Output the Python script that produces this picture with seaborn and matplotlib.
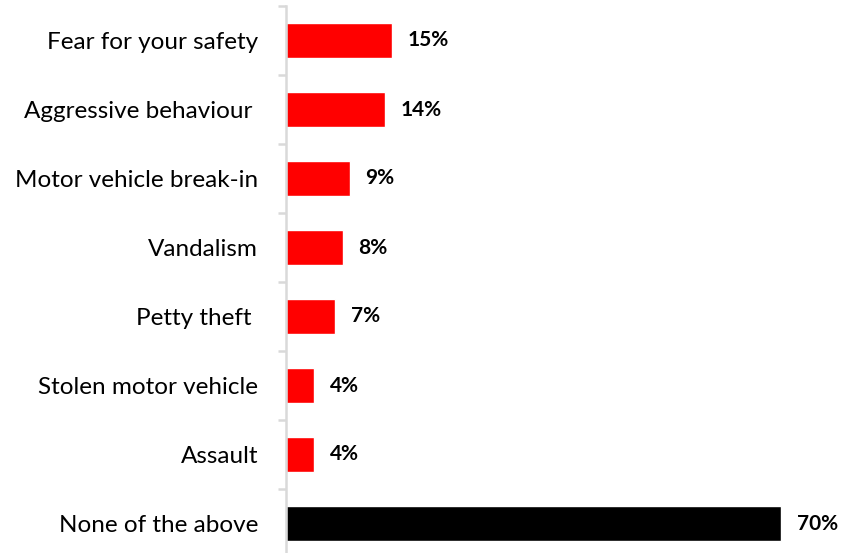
import matplotlib
matplotlib.use("Agg")
import matplotlib.pyplot as plt
import seaborn as sns
import pandas as pd
import numpy as np

categories = [
    "Fear for your safety",
    "Aggressive behaviour ",
    "Motor vehicle break-in",
    "Vandalism",
    "Petty theft ",
    "Stolen motor vehicle",
    "Assault",
    "None of the above",
]
values = [15, 14, 9, 8, 7, 4, 4, 70]
bar_colors = ["#FF0000"] * 7 + ["#000000"]

sns.set_theme(style="white")
plt.rcParams["font.family"] = ["Lato", "DejaVu Sans"]

df = pd.DataFrame({"category": categories, "value": values})

W, H = 842, 553
fig = plt.figure(figsize=(W / 100, H / 100), dpi=100)
ax = fig.add_axes([286 / W, -5 / H, 550 / W, 552 / H])

sns.barplot(
    data=df, x="value", y="category", hue="category",
    palette=bar_colors, width=0.5, orient="h", legend=False, ax=ax,
    saturation=1,
)

ax.set_xlim(0, 77.8)
ax.set_ylim(7.5, -0.5)
ax.set_xlabel("")
ax.set_ylabel("")
ax.set_xticks([])

for s in ["top", "right", "bottom"]:
    ax.spines[s].set_visible(False)
ax.spines["left"].set_color("#D9D9D9")
ax.spines["left"].set_linewidth(1.8)

# category labels without tick marks; short gray ticks between categories
ax.set_yticks(range(len(categories)))
ax.set_yticklabels(categories, fontsize=17.5, color="#000000")
ax.tick_params(axis="y", which="major", left=True, length=0, pad=20)
ax.set_yticks(np.arange(-0.5, len(categories), 1.0), minor=True)
ax.tick_params(axis="y", which="minor", left=True, length=6, width=1.8,
               color="#D9D9D9", direction="out")

for i, v in enumerate(values):
    ax.annotate(f"{v}%", xy=(v, i), xytext=(11.5, 0), textcoords="offset points",
                ha="left", va="center", fontsize=15, fontweight="bold",
                color="#000000")

fig.savefig("out.png", dpi=100)
